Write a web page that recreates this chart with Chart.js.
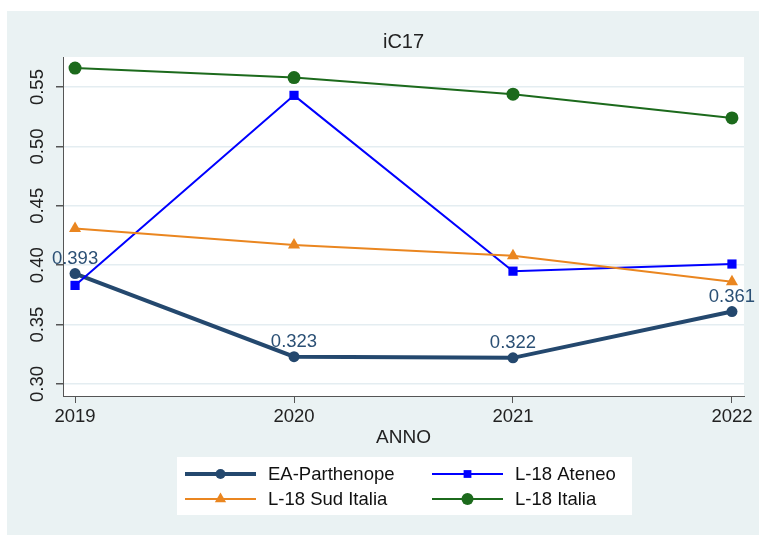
<!DOCTYPE html>
<html>
<head>
<meta charset="utf-8">
<script src="https://cdn.jsdelivr.net/npm/chart.js@4"></script>
<style>
  html, body { margin: 0; padding: 0; background: #fff; }
  canvas { display: block; }
</style>
</head>
<body>
<canvas id="myChart" width="759" height="536"></canvas>
<script>
// data
var years = [2019, 2020, 2021, 2022];
var seriesNames = ['EA-Parthenope', 'L-18 Ateneo', 'L-18 Sud Italia', 'L-18 Italia'];
var eaParthenope = [0.393, 0.323, 0.322, 0.361];
var l18Ateneo = [0.383, 0.543, 0.395, 0.401];
var l18SudItalia = [0.431, 0.417, 0.408, 0.386];
var l18Italia = [0.566, 0.558, 0.544, 0.524];
var yTicks = [0.30, 0.35, 0.40, 0.45, 0.50, 0.55];
var yTickLabels = ['0.30', '0.35', '0.40', '0.45', '0.50', '0.55'];

var FONT = '"Liberation Sans", Arial, Helvetica, sans-serif';
var navy = '#24486e';
var blue = '#0000ff';
var orange = '#ea8620';
var green = '#1c6a1c';

function toPoints(values) {
    return years.map(function (yr, i) { return { x: yr, y: values[i] }; });
}

// stata-like background: grey-blue graph region, white plot region
var bgPlugin = {
    id: 'stataBackground',
    beforeDraw: function (chart) {
        var c = chart.ctx, a = chart.chartArea;
        c.save();
        c.fillStyle = '#ffffff';
        c.fillRect(0, 0, chart.width, chart.height);
        c.fillStyle = '#eaf2f3';
        c.fillRect(7, 11, 752, 524);
        c.fillStyle = '#ffffff';
        c.fillRect(a.left, a.top, a.right - a.left, a.bottom - a.top);
        c.restore();
    }
};

// y tick labels are vertical in the original
var yLabelPlugin = {
    id: 'verticalYLabels',
    afterDraw: function (chart) {
        var c = chart.ctx, ys = chart.scales.y;
        c.save();
        c.font = '18.5px ' + FONT;
        c.fillStyle = '#222';
        c.textAlign = 'center';
        c.textBaseline = 'middle';
        yTicks.forEach(function (v, i) {
            c.save();
            c.translate(ys.left + 38, ys.getPixelForValue(v));
            c.rotate(-Math.PI / 2);
            c.fillText(yTickLabels[i], 0, 0);
            c.restore();
        });
        c.restore();
    }
};

// value labels above EA-Parthenope points
var valueLabelPlugin = {
    id: 'valueLabels',
    afterDatasetsDraw: function (chart) {
        var c = chart.ctx;
        var meta = chart.getDatasetMeta(0);
        c.save();
        c.font = '18.5px ' + FONT;
        c.fillStyle = '#2b5075';
        c.textAlign = 'center';
        c.textBaseline = 'middle';
        meta.data.forEach(function (pt, i) {
            c.fillText(eaParthenope[i].toFixed(3), pt.x, pt.y - 15);
        });
        c.restore();
    }
};

// two column legend box like stata's
var legendPlugin = {
    id: 'boxLegend',
    afterDraw: function (chart) {
        var c = chart.ctx;
        var box = { x: 177, y: 457, w: 455, h: 58 };
        var cols = [185, 432];
        var rows = [474, 499];
        var sizes = [5, 5.5, 6.5, 6];
        c.save();
        c.fillStyle = '#ffffff';
        c.fillRect(box.x, box.y, box.w, box.h);
        chart.data.datasets.forEach(function (ds, i) {
            var x = cols[i % 2], y = rows[Math.floor(i / 2)];
            c.strokeStyle = ds.borderColor;
            c.lineWidth = ds.borderWidth;
            c.beginPath();
            c.moveTo(x, y);
            c.lineTo(x + 71, y);
            c.stroke();
            c.fillStyle = ds.backgroundColor;
            Chart.helpers.drawPoint(c, { pointStyle: ds.pointStyle, radius: sizes[i], rotation: 0, borderWidth: 0 }, x + 35.5, y);
            c.fillStyle = '#111';
            c.font = '18.5px ' + FONT;
            c.textAlign = 'left';
            c.textBaseline = 'middle';
            c.fillText(ds.label, x + 83, y + 1);
        });
        c.restore();
    }
};

var ctx = document.getElementById('myChart').getContext('2d');

var chart = new Chart(ctx, {
    type: 'line',
    data: {
        datasets: [
            {
                label: seriesNames[0],
                data: toPoints(eaParthenope),
                borderColor: navy,
                backgroundColor: navy,
                borderWidth: 4,
                pointStyle: 'circle',
                pointRadius: 5.5,
                pointBorderWidth: 0,
                order: 4
            },
            {
                label: seriesNames[1],
                data: toPoints(l18Ateneo),
                borderColor: blue,
                backgroundColor: blue,
                borderWidth: 2,
                pointStyle: 'rect',
                pointRadius: 6.5,
                pointBorderWidth: 0,
                order: 3
            },
            {
                label: seriesNames[2],
                data: toPoints(l18SudItalia),
                borderColor: orange,
                backgroundColor: orange,
                borderWidth: 2,
                pointStyle: 'triangle',
                pointRadius: 7,
                pointBorderWidth: 0,
                order: 2
            },
            {
                label: seriesNames[3],
                data: toPoints(l18Italia),
                borderColor: green,
                backgroundColor: green,
                borderWidth: 2,
                pointStyle: 'circle',
                pointRadius: 6.5,
                pointBorderWidth: 0,
                order: 1
            }
        ]
    },
    options: {
        responsive: false,
        animation: false,
        events: [],
        layout: { padding: { left: 0, right: 15, top: 0, bottom: 80 } },
        plugins: {
            legend: { display: false },
            tooltip: { enabled: false },
            title: {
                display: true,
                fullSize: false,
                text: 'iC17',
                color: '#222',
                font: { family: FONT, size: 20, weight: 'normal' },
                padding: { top: 30.5, bottom: 2.5 }
            }
        },
        scales: {
            x: {
                type: 'linear',
                min: 2018.945,
                max: 2022.055,
                afterBuildTicks: function (s) {
                    s.ticks = years.map(function (v) { return { value: v }; });
                },
                afterFit: function (s) { s.height = 60; },
                ticks: {
                    color: '#222',
                    font: { family: FONT, size: 18.5 },
                    padding: 3,
                    maxRotation: 0,
                    callback: function (v) { return String(v); }
                },
                grid: {
                    drawOnChartArea: false,
                    drawTicks: true,
                    tickLength: 7,
                    tickColor: '#555'
                },
                border: { display: true, color: '#555', width: 1 },
                title: {
                    display: true,
                    text: 'ANNO',
                    color: '#222',
                    font: { family: FONT, size: 19 },
                    padding: { top: 0, bottom: 7 }
                }
            },
            y: {
                type: 'linear',
                min: 0.2899,
                max: 0.5753,
                afterBuildTicks: function (s) {
                    s.ticks = yTicks.map(function (v) { return { value: v }; });
                },
                afterFit: function (s) { s.width = 63; },
                ticks: { display: false },
                grid: {
                    color: '#e4edf1',
                    lineWidth: 1.5,
                    drawTicks: true,
                    tickLength: 7,
                    tickColor: '#555'
                },
                border: { display: true, color: '#555', width: 1 }
            }
        }
    },
    plugins: [bgPlugin, yLabelPlugin, valueLabelPlugin, legendPlugin]
});
</script>
</body>
</html>
